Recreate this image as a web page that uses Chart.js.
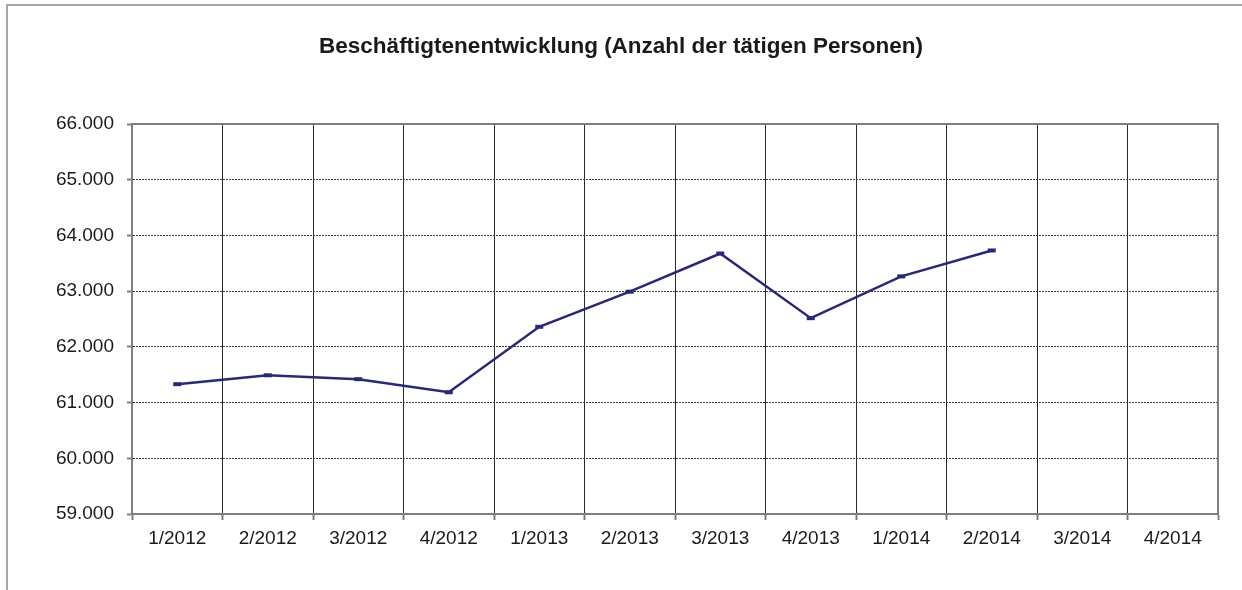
<!DOCTYPE html>
<html>
<head>
<meta charset="utf-8">
<title>Beschäftigtenentwicklung</title>
<script src="https://cdn.jsdelivr.net/npm/chart.js@4/dist/chart.umd.min.js"></script>
<style>
  html, body { margin: 0; padding: 0; background: #fff; }
  #wrap { position: relative; width: 1242px; height: 590px; overflow: hidden; }
  #frame { position: absolute; left: 6px; top: 4px; width: 1300px; height: 700px;
           border-left: 2px solid #a6a6a6; border-top: 2px solid #a6a6a6; pointer-events: none; }
  canvas { position: absolute; left: 0; top: 0; }
</style>
</head>
<body>
<div id="wrap">
  <canvas id="chart" width="1242" height="590"></canvas>
  <div id="frame"></div>
</div>
<script>
// quarters shown on the x axis
const quarters = ['1/2012', '2/2012', '3/2012', '4/2012', '1/2013', '2/2013',
                  '3/2013', '4/2013', '1/2014', '2/2014', '3/2014', '4/2014'];
// employed persons per quarter
const employees = [61330, 61490, 61420, 61185, 62360, 62990,
                   63675, 62515, 63265, 63730, null, null];
const yMin = 59000, yMax = 66000, yStep = 1000;

const titleText = 'Beschäftigtenentwicklung (Anzahl der tätigen Personen)';

function fmtDE(n) {
  return String(n).replace(/\B(?=(\d{3})+(?!\d))/g, '.');
}

// gray frame on top and right of the plot area
const plotFrame = {
  id: 'plotFrame',
  afterDraw(chart) {
    const { ctx, chartArea: a } = chart;
    ctx.save();
    ctx.strokeStyle = '#7f7f7f';
    ctx.lineWidth = 2;
    ctx.beginPath();
    ctx.moveTo(a.left, a.top);
    ctx.lineTo(a.right, a.top);
    ctx.lineTo(a.right, a.bottom);
    ctx.stroke();
    ctx.restore();
  }
};

const font = { family: 'Arial, "Liberation Sans", sans-serif', size: 19 };

new Chart(document.getElementById('chart'), {
  type: 'line',
  data: {
    labels: quarters,
    datasets: [{
      label: 'Tätige Personen',
      data: employees,
      borderColor: '#282878',
      backgroundColor: '#282878',
      borderWidth: 2.5,
      tension: 0,
      pointStyle: 'line',
      pointRadius: 4,
      pointBorderWidth: 4,
      pointBorderColor: '#282878',
      spanGaps: false
    }]
  },
  options: {
    responsive: false,
    animation: false,
    layout: { padding: 0 },
    plugins: {
      legend: { display: false },
      tooltip: { enabled: false },
      title: {
        display: true,
        text: titleText,
        color: '#1a1a1a',
        font: { family: font.family, size: 22.5, weight: 'bold' },
        padding: { top: 33, bottom: 64 }
      }
    },
    scales: {
      x: {
        offset: true,
        grid: {
          offset: true,
          color: '#2b2b2b',
          lineWidth: 1,
          drawTicks: true,
          tickLength: 6,
          tickColor: '#7f7f7f',
          tickWidth: 2
        },
        border: { display: true, color: '#7f7f7f', width: 2 },
        ticks: { color: '#1a1a1a', font, padding: 7, maxRotation: 0, autoSkip: false },
        afterFit(axis) { axis.height = 76; }
      },
      y: {
        min: yMin,
        max: yMax,
        grid: {
          color: '#3a3a3a',
          lineWidth: 1,
          tickLength: 5,
          tickColor: '#7f7f7f',
          tickWidth: 2
        },
        border: { display: true, color: '#7f7f7f', width: 2, dash: [2, 1] },
        ticks: {
          stepSize: yStep,
          color: '#1a1a1a',
          font,
          padding: 13,
          callback: v => fmtDE(v)
        },
        afterFit(axis) { axis.width = 132; }
      },
      // empty right-hand spacer so the title stays centred on the whole canvas
      yRight: {
        position: 'right',
        min: yMin,
        max: yMax,
        grid: { drawOnChartArea: false, drawTicks: false },
        border: { display: false },
        ticks: { display: false },
        afterFit(axis) { axis.width = 24; }
      }
    }
  },
  plugins: [plotFrame]
});
</script>
</body>
</html>
